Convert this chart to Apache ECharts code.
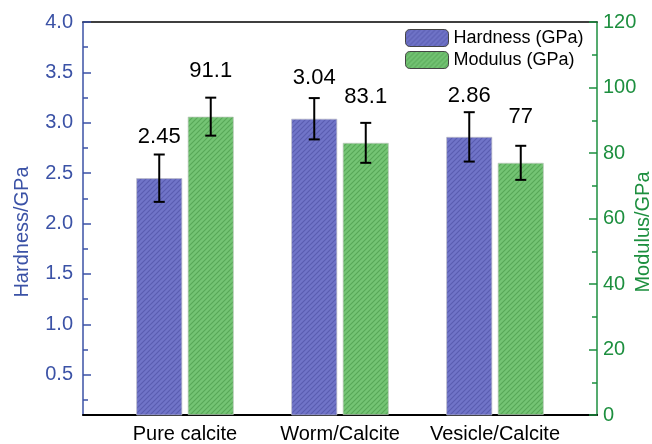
<!DOCTYPE html>
<html>
<head>
<meta charset="utf-8">
<script src="https://cdn.jsdelivr.net/npm/echarts@6/dist/echarts.min.js"></script>
<style>html,body{margin:0;padding:0;background:#fff}#c{width:652px;height:444px}</style>
</head>
<body>
<div id="c"></div>
<script>
const categories = ['Pure calcite', 'Worm/Calcite', 'Vesicle/Calcite'];
const hardness = [2.45, 3.04, 2.86];
const hardnessErr = [0.235, 0.205, 0.245];
const modulus = [91.1, 83.1, 77];
const modulusErr = [5.8, 6.1, 5.2];
const leftLabels = [0.5, 1.0, 1.5, 2.0, 2.5, 3.0, 3.5, 4.0];
const leftMinor = [0.25, 0.75, 1.25, 1.75, 2.25, 2.75, 3.25, 3.75];
const rightLabels = [0, 20, 40, 60, 80, 100, 120];
const rightMinor = [10, 30, 50, 70, 90, 110];

const BLUE = '#3b52a6', GREEN = '#1d8f3f';
const FONT = 'Liberation Sans, Arial, sans-serif';

function hatch(bg, fg) {
  const s = 5;
  const c = document.createElement('canvas');
  c.width = s; c.height = s;
  const g = c.getContext('2d');
  g.fillStyle = bg; g.fillRect(0, 0, s, s);
  g.strokeStyle = fg; g.lineWidth = 1.1;
  g.beginPath();
  g.moveTo(0, s); g.lineTo(s, 0);
  g.moveTo(-s, s); g.lineTo(s, -s);
  g.moveTo(0, 2 * s); g.lineTo(2 * s, 0);
  g.stroke();
  return c;
}
const blueFill = { image: hatch('#7074c8', '#5a5db0'), repeat: 'repeat' };
const greenFill = { image: hatch('#74c474', '#58a858'), repeat: 'repeat' };

const BAR_W = 46, GAP = 5.5, OFF = (BAR_W + GAP) / 2;

function errSeries(name, vals, errs, yIdx, off) {
  return {
    type: 'custom', name: name, yAxisIndex: yIdx, z: 5,
    data: vals.map((v, i) => [i + 1, v, errs[i]]),
    encode: { x: 0, y: 1 },
    renderItem: function (params, api) {
      const x = api.value(0), v = api.value(1), e = api.value(2);
      const hi = api.coord([x, v + e]);
      const lo = api.coord([x, v - e]);
      const px = hi[0] + off, cw = 5.5;
      const st = { stroke: '#000', lineWidth: 2 };
      return { type: 'group', children: [
        { type: 'line', shape: { x1: px, y1: hi[1], x2: px, y2: lo[1] }, style: st },
        { type: 'line', shape: { x1: px - cw, y1: hi[1], x2: px + cw, y2: hi[1] }, style: st },
        { type: 'line', shape: { x1: px - cw, y1: lo[1], x2: px + cw, y2: lo[1] }, style: st }
      ]};
    }
  };
}

const chart = echarts.init(document.getElementById('c'));
chart.setOption({
  animation: false,
  textStyle: { fontFamily: FONT },
  grid: { left: 83, right: 55, top: 22, bottom: 29, containLabel: false, outerBoundsMode: 'none' },
  legend: {
    data: ['Hardness (GPa)', 'Modulus (GPa)'],
    orient: 'vertical', left: 400, top: 24,
    itemWidth: 43, itemHeight: 17, itemGap: 4,
    textStyle: { fontSize: 18, color: '#000', fontFamily: FONT },
    itemStyle: { borderColor: '#444', borderWidth: 1 }
  },
  xAxis: [{
    type: 'value', min: 0.342, max: 3.658, position: 'bottom',
    axisLine: { show: true, onZero: false, lineStyle: { color: '#000', width: 2 } },
    axisTick: { show: false }, splitLine: { show: false },
    axisLabel: {
      customValues: [1, 2, 3], margin: 9,
      fontSize: 20, color: '#000', fontFamily: FONT,
      formatter: v => categories[Math.round(v) - 1] || ''
    }
  }, {
    type: 'value', min: 0.342, max: 3.658, position: 'top',
    axisLine: { show: true, onZero: false, lineStyle: { color: '#000', width: 1.5 } },
    axisTick: { show: false }, splitLine: { show: false }, axisLabel: { show: false }
  }],
  yAxis: [{
    type: 'value', min: 0.1, max: 4.0, position: 'left',
    name: 'Hardness/GPa', nameLocation: 'middle', nameGap: 51, nameRotate: 90, nameMoveOverlap: false,
    nameTextStyle: { fontSize: 20, color: BLUE, fontFamily: FONT, padding: [0, 27, 0, 0] },
    axisLine: { show: true, onZero: false, lineStyle: { color: BLUE, width: 1.5 } },
    axisTick: { show: true, inside: true, length: 8, customValues: leftLabels, lineStyle: { color: BLUE, width: 1.5 } },
    axisLabel: { customValues: leftLabels, fontSize: 20, color: BLUE, margin: 10, fontFamily: FONT,
      formatter: v => v.toFixed(1) },
    splitLine: { show: false }
  }, {
    type: 'value', min: 0, max: 120, position: 'right',
    name: 'Modulus/GPa', nameLocation: 'middle', nameGap: 36, nameRotate: 90, nameMoveOverlap: false,
    nameTextStyle: { fontSize: 20, color: GREEN, fontFamily: FONT, padding: [0, 27, 0, 0] },
    axisLine: { show: true, onZero: false, lineStyle: { color: GREEN, width: 1.5 } },
    axisTick: { show: true, inside: true, length: 8, customValues: rightLabels, lineStyle: { color: GREEN, width: 1.5 } },
    axisLabel: { customValues: rightLabels, fontSize: 20, color: GREEN, margin: 6, fontFamily: FONT },
    splitLine: { show: false }
  }, {
    type: 'value', min: 0.1, max: 4.0, position: 'left',
    axisLine: { show: false },
    axisTick: { show: true, inside: true, length: 5, customValues: leftMinor, lineStyle: { color: BLUE, width: 1.5 } },
    axisLabel: { show: false }, splitLine: { show: false }
  }, {
    type: 'value', min: 0, max: 120, position: 'right',
    axisLine: { show: false },
    axisTick: { show: true, inside: true, length: 5, customValues: rightMinor, lineStyle: { color: GREEN, width: 1.5 } },
    axisLabel: { show: false }, splitLine: { show: false }
  }],
  series: [{
    type: 'bar', name: 'Hardness (GPa)', yAxisIndex: 0,
    data: hardness.map((v, i) => [i + 1, v]),
    barWidth: BAR_W, barGap: (GAP / BAR_W * 100) + '%',
    itemStyle: { color: blueFill, borderColor: 'rgba(190,190,200,0.9)', borderWidth: 0.8 },
    label: { show: true, position: 'top', distance: 30, fontSize: 22, color: '#000', fontFamily: FONT,
      formatter: p => String(p.value[1]) }
  }, {
    type: 'bar', name: 'Modulus (GPa)', yAxisIndex: 1,
    data: modulus.map((v, i) => [i + 1, v]),
    barWidth: BAR_W,
    itemStyle: { color: greenFill, borderColor: 'rgba(190,200,190,0.9)', borderWidth: 0.8 },
    label: { show: true, position: 'top', distance: 35, fontSize: 22, color: '#000', fontFamily: FONT,
      formatter: p => String(p.value[1]) }
  },
  errSeries('hErr', hardness, hardnessErr, 0, -OFF),
  errSeries('mErr', modulus, modulusErr, 1, OFF)
  ]
});
</script>
</body>
</html>
